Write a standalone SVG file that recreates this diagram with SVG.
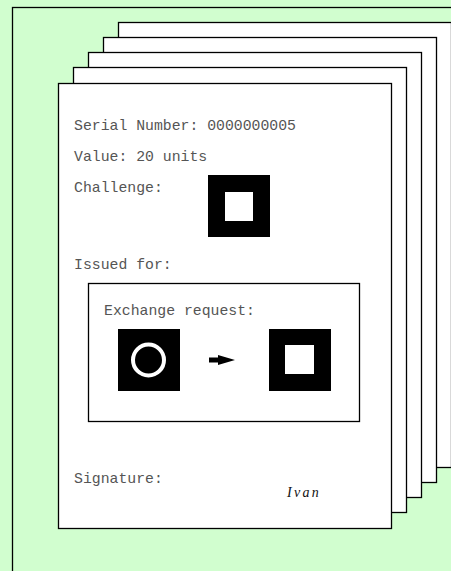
<svg xmlns="http://www.w3.org/2000/svg" width="451" height="571" viewBox="0 0 451 571">
<style>
.page{fill:#fff;stroke:#000;stroke-width:1.3}
.mono{font-family:"Liberation Mono","Courier New",monospace;font-size:14.8px;fill:#555}
.blk{fill:#000}
.wht{fill:#fff}
.sig{font-family:"Liberation Serif","Times New Roman",serif;font-style:italic;font-size:14px;letter-spacing:2.3px;fill:#111}
</style>
<rect x="0" y="0" width="451" height="571" fill="#d1fecf"/>
<rect id="frame" x="12.5" y="7.5" width="460" height="600" fill="none" stroke="#000" stroke-width="1.3"/>
<g id="page5"><rect class="page" x="118.5" y="22.5" width="333" height="445"/></g>
<g id="page4"><rect class="page" x="103.5" y="37.5" width="333" height="445"/></g>
<g id="page3"><rect class="page" x="88.5" y="52.5" width="333" height="445"/></g>
<g id="page2"><rect class="page" x="73.5" y="67.5" width="333" height="445"/></g>
<g id="page1">
<rect class="page" x="58.5" y="83.5" width="333" height="445"/>
<text class="mono" x="74" y="130">Serial Number: 0000000005</text>
<text class="mono" x="74" y="161">Value: 20 units</text>
<text class="mono" x="74" y="192">Challenge:</text>
<g id="challenge">
<rect class="blk" x="208" y="175" width="62" height="62"/>
<rect class="wht" x="225" y="192" width="28" height="29"/>
</g>
<text class="mono" x="74" y="269">Issued for:</text>
<g id="request">
<rect x="88.5" y="283.5" width="271" height="138" fill="#fff" stroke="#000" stroke-width="1.3"/>
<text class="mono" x="104" y="315">Exchange request:</text>
<rect class="blk" x="118" y="329" width="62" height="62"/>
<circle cx="148.5" cy="360" r="15.5" fill="none" stroke="#fff" stroke-width="4"/>
<path class="blk" d="M209 357.5 H218 V355 L235 360 L218 365 V362.5 H209 Z"/>
<rect class="blk" x="269" y="329" width="62" height="62"/>
<rect class="wht" x="285" y="345" width="29" height="29"/>
</g>
<text class="mono" x="74" y="483">Signature:</text>
<text class="sig" x="287" y="497">Ivan</text>
</g>
</svg>
